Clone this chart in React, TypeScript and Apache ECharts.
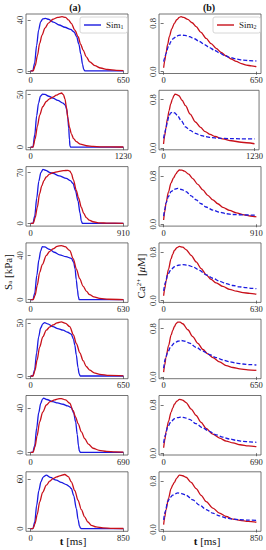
import React, { useEffect, useRef } from "react";
import * as echarts from "echarts";

type Pt = [number, number];

// x-axis end (ms) and the labelled y tick of each row
const timeMax = [650, 1230, 910, 630, 650, 690, 850];
const forceTick = [40, 50, 70, 40, 50, 40, 60];
const calciumTick = [0, 0.8];

// ---- column (a): active stress S_a [kPa] ----
const sa1Row1: Pt[] = [[0,0],[15,0],[28,6],[42,20],[56,32],[70,38.5],[85,40.8],[105,41.2],[125,40.5],[160,38.2],[200,36],[240,34.2],[280,32.5],[305,30.5],[322,27],[338,21],[352,13],[364,5],[372,1],[380,0],[650,0]];
const sa2Row1: Pt[] = [[0,0],[18,0],[32,4],[48,12],[63,21.5],[80,28],[100,33.5],[125,37.5],[157,40.5],[190,42],[220,42.5],[245,42],[265,40],[285,37.3],[310,32],[333,26.8],[350,21],[368,16.3],[390,11],[415,7],[450,4],[490,2.2],[540,1],[600,0.4],[650,0.15]];
const sa1Row2: Pt[] = [[0,0],[30,0],[55,12],[80,30],[105,42],[130,48.5],[160,50.6],[190,50.2],[240,48.5],[296,46.8],[360,44.5],[429,41.9],[460,40],[478,36],[492,29],[505,18],[515,7],[522,1],[530,0],[1230,0]];
const sa2Row2: Pt[] = [[0,0],[32,0],[60,8],[90,20],[120,30.5],[160,38.5],[208,43.5],[250,46],[296,47.7],[340,49.5],[385,51],[410,51.6],[435,50],[455,46],[475,38],[495,27],[515,19],[540,12.7],[570,8],[606,5.2],[660,2.8],[740,1.3],[830,0.6],[920,0.3],[1230,0.1]];
const sa1Row3: Pt[] = [[0,0],[22,0],[40,10],[60,35],[80,58],[100,70],[121,74.6],[150,73],[185,70.5],[219,69],[280,65.5],[350,62],[390,59],[416,55],[440,45],[465,31],[485,14],[498,3],[508,0],[910,0]];
const sa2Row3: Pt[] = [[0,0],[25,0],[45,8],[65,22],[88,41],[110,52],[130,59],[153,64],[185,68],[219,70],[270,71.5],[320,72.7],[367,73.2],[385,72],[399,69],[420,60],[448,45.5],[470,35],[498,22],[520,14],[547,8],[575,4.5],[612,2.3],[678,0.8],[760,0.3],[910,0.1]];
const sa1Row4: Pt[] = [[0,0],[15,0],[28,6],[42,22],[56,36],[68,44],[79,48],[95,47.8],[129,45.5],[160,43],[197,40.6],[240,39],[277,37.5],[292,34],[302,28],[310,18],[318,9],[324,3],[330,0],[630,0]];
const sa2Row4: Pt[] = [[0,0],[17,0],[30,4],[45,13],[61,24.6],[80,32],[106,40],[130,43.8],[152,46],[180,48.3],[209,49],[235,48],[265,44.6],[290,37],[311,27.7],[333,19],[356,12.3],[380,7.5],[401,4.6],[430,2.5],[469,1.2],[530,0.4],[630,0.1]];
const sa1Row5: Pt[] = [[0,0],[15,0],[28,6],[42,22],[56,37],[70,45.5],[85,49.5],[98,50.6],[120,49.5],[157,46.8],[190,45],[227,43.5],[260,41.5],[285,39.7],[300,35],[310,29],[320,20],[332,8],[340,2],[348,0],[650,0]];
const sa2Row5: Pt[] = [[0,0],[17,0],[30,5],[45,15],[63,27.4],[85,37],[110,43.5],[135,46.6],[157,48.4],[185,50.4],[215,51.3],[245,50],[274,46.8],[300,39],[321,30.6],[345,22],[368,14.5],[390,9],[415,5.5],[445,3],[485,1.6],[550,0.5],[650,0.15]];
const sa1Row6: Pt[] = [[0,0],[16,0],[30,6],[45,22],[60,36],[75,44.5],[88,48.3],[97,49.2],[120,48],[166,46],[200,45],[241,43.7],[275,42.2],[303,40.6],[320,36],[335,27.7],[347,16],[356,6],[362,1.5],[370,0],[690,0]];
const sa2Row6: Pt[] = [[0,0],[18,0],[32,5],[48,15],[67,27.7],[90,36.5],[117,43],[145,46],[179,47.7],[205,48.6],[229,48.9],[260,47.6],[291,44.6],[315,38],[335,32],[353,26],[378,18.5],[403,12.3],[430,7.5],[464,3.7],[510,1.8],[564,0.9],[630,0.4],[690,0.2]];
const sa1Row7: Pt[] = [[0,0],[20,0],[38,8],[55,28],[75,46],[95,57],[115,62.5],[144,64.8],[180,62],[236,58.7],[280,56],[327,53.4],[355,51],[373,48.6],[395,40],[419,24.3],[435,11],[448,3],[458,0.5],[465,0],[850,0]];
const sa2Row7: Pt[] = [[0,0],[22,0],[40,6],[60,17],[83,32.4],[110,44],[144,52.6],[175,57.5],[205,60.7],[240,62.8],[266,64],[312,65.6],[345,63],[373,56.7],[405,46],[434,34.4],[465,23],[495,14.2],[525,8],[556,4],[600,2],[663,0.8],[750,0.3],[850,0.1]];

// ---- column (b): calcium Ca2+ [uM] ----
const ca2Row1: Pt[] = [[0,0.066],[8,0.18],[16,0.3],[28,0.45],[40,0.58],[57,0.71],[75,0.8],[92,0.86],[110,0.9],[122,0.91],[140,0.9],[169,0.866],[200,0.81],[228,0.745],[262,0.65],[298,0.55],[333,0.465],[368,0.386],[403,0.32],[439,0.26],[474,0.21],[509,0.17],[545,0.135],[580,0.11],[615,0.095],[650,0.083]];
const ca1Row1: Pt[] = [[0,0.166],[8,0.23],[16,0.3],[34,0.42],[52,0.5],[70,0.555],[87,0.58],[105,0.6],[122,0.607],[150,0.6],[181,0.58],[215,0.545],[251,0.5],[286,0.45],[321,0.4],[356,0.355],[392,0.31],[427,0.27],[462,0.237],[510,0.21],[556,0.193],[600,0.183],[650,0.177]];
const ca2Row2: Pt[] = [[0,0.065],[15,0.2],[31,0.32],[52,0.48],[75,0.62],[97,0.73],[120,0.81],[140,0.865],[155,0.89],[180,0.885],[209,0.865],[250,0.79],[297,0.7],[360,0.56],[431,0.43],[500,0.34],[564,0.27],[630,0.225],[697,0.19],[800,0.15],[919,0.12],[1050,0.095],[1230,0.07]];
const ca1Row2: Pt[] = [[0,0.16],[15,0.24],[31,0.32],[52,0.44],[75,0.54],[97,0.58],[120,0.595],[150,0.58],[187,0.54],[240,0.45],[297,0.35],[360,0.29],[431,0.243],[500,0.21],[564,0.19],[650,0.172],[742,0.162],[900,0.155],[1050,0.152],[1230,0.151]];
const ca2Row3: Pt[] = [[0,0.07],[12,0.22],[23,0.35],[47,0.53],[72,0.68],[97,0.77],[122,0.84],[140,0.88],[154,0.9],[180,0.895],[204,0.88],[245,0.83],[286,0.757],[335,0.66],[384,0.57],[433,0.48],[483,0.405],[532,0.34],[581,0.28],[647,0.23],[713,0.19],[790,0.155],[850,0.137],[910,0.124]];
const ca1Row3: Pt[] = [[0,0.135],[12,0.25],[23,0.35],[47,0.46],[72,0.54],[105,0.58],[138,0.595],[180,0.575],[220,0.54],[270,0.47],[319,0.405],[368,0.34],[417,0.286],[483,0.235],[549,0.2],[615,0.175],[680,0.162],[780,0.155],[910,0.151]];
const ca2Row4: Pt[] = [[0,0.08],[8,0.2],[16,0.32],[33,0.52],[50,0.69],[62,0.77],[73,0.83],[90,0.875],[107,0.896],[130,0.885],[152,0.843],[187,0.75],[221,0.64],[255,0.53],[289,0.427],[323,0.35],[357,0.293],[402,0.235],[448,0.187],[494,0.155],[539,0.133],[585,0.118],[630,0.107]];
const ca1Row4: Pt[] = [[0,0.16],[12,0.3],[27,0.43],[50,0.51],[73,0.56],[100,0.585],[130,0.597],[165,0.585],[198,0.56],[244,0.5],[289,0.427],[335,0.37],[380,0.32],[425,0.28],[471,0.25],[516,0.228],[562,0.213],[600,0.203],[630,0.197]];
const ca2Row5: Pt[] = [[0,0.08],[8,0.2],[16,0.32],[35,0.52],[52,0.69],[64,0.77],[75,0.83],[87,0.88],[99,0.907],[115,0.905],[134,0.88],[170,0.78],[204,0.667],[240,0.555],[275,0.453],[310,0.38],[345,0.32],[392,0.25],[439,0.187],[486,0.155],[533,0.133],[590,0.117],[650,0.107]];
const ca1Row5: Pt[] = [[0,0.144],[12,0.3],[27,0.4],[50,0.5],[75,0.56],[100,0.59],[122,0.603],[150,0.59],[181,0.56],[228,0.49],[275,0.427],[322,0.37],[368,0.32],[415,0.28],[462,0.25],[509,0.228],[556,0.213],[600,0.204],[650,0.197]];
const ca2Row6: Pt[] = [[0,0.09],[9,0.22],[18,0.357],[37,0.53],[55,0.677],[68,0.75],[80,0.81],[98,0.86],[117,0.89],[140,0.88],[167,0.837],[205,0.73],[242,0.624],[279,0.51],[316,0.41],[366,0.315],[416,0.25],[466,0.2],[516,0.17],[570,0.14],[630,0.12],[690,0.107]];
const ca1Row6: Pt[] = [[0,0.17],[13,0.3],[30,0.437],[55,0.52],[80,0.57],[105,0.59],[130,0.597],[160,0.585],[192,0.56],[240,0.49],[291,0.42],[340,0.36],[391,0.304],[440,0.265],[490,0.235],[540,0.213],[590,0.197],[640,0.187],[690,0.18]];
const ca2Row7: Pt[] = [[0,0.08],[10,0.2],[21,0.32],[45,0.52],[68,0.676],[83,0.735],[98,0.78],[120,0.85],[144,0.9],[175,0.89],[206,0.865],[252,0.78],[298,0.676],[344,0.565],[390,0.46],[451,0.355],[512,0.27],[573,0.215],[635,0.173],[700,0.15],[775,0.133],[850,0.12]];
const ca1Row7: Pt[] = [[0,0.16],[15,0.3],[37,0.46],[60,0.53],[83,0.568],[105,0.59],[129,0.605],[165,0.595],[206,0.568],[267,0.49],[328,0.405],[390,0.33],[451,0.27],[512,0.225],[574,0.19],[635,0.172],[697,0.162],[780,0.155],[850,0.151]];

const saSim1 = [sa1Row1, sa1Row2, sa1Row3, sa1Row4, sa1Row5, sa1Row6, sa1Row7];
const saSim2 = [sa2Row1, sa2Row2, sa2Row3, sa2Row4, sa2Row5, sa2Row6, sa2Row7];
const caSim1 = [ca1Row1, ca1Row2, ca1Row3, ca1Row4, ca1Row5, ca1Row6, ca1Row7];
const caSim2 = [ca2Row1, ca2Row2, ca2Row3, ca2Row4, ca2Row5, ca2Row6, ca2Row7];

const BLUE = "#1a1ae0";
const RED = "#c8101a";
const FRAME = "#505050";
const FONT = "Liberation Serif";

function buildOption() {
  const colLeft = [26, 159];
  const gridW = 102;
  const gridH = 59.5;
  const pitch = 76.3;
  const grid: any[] = [];
  const xAxis: any[] = [];
  const yAxis: any[] = [];
  const series: any[] = [];
  const labelStyle = { fontFamily: FONT, fontSize: 8.5, color: "#222" };

  for (let i = 0; i < 7; i++) {
    const top = 14 + i * pitch;
    const T = timeMax[i];
    for (let c = 0; c < 2; c++) {
      const idx = i * 2 + c;
      grid.push({
        left: colLeft[c], top, width: gridW, height: gridH,
        show: true, borderColor: FRAME, borderWidth: 0.8, backgroundColor: "#fff",
      });
      xAxis.push({
        type: "value", gridIndex: idx, min: -0.05 * T, max: 1.05 * T,
        axisLine: { show: false }, splitLine: { show: false },
        axisTick: { show: true, length: 3, customValues: [0, T], lineStyle: { color: FRAME, width: 0.8 } },
        axisLabel: { ...labelStyle, margin: 2, customValues: [0, T], formatter: (v: number) => String(Math.round(v)) },
      });
      if (c === 0) {
        let peak = 0;
        for (const p of saSim1[i].concat(saSim2[i])) peak = Math.max(peak, p[1]);
        yAxis.push({
          type: "value", gridIndex: idx, min: -0.05 * peak, max: 1.05 * peak,
          axisLine: { show: false }, splitLine: { show: false },
          axisTick: { show: true, length: 3, customValues: [0, forceTick[i]], lineStyle: { color: FRAME, width: 0.8 } },
          axisLabel: { ...labelStyle, margin: 2, rotate: 90, customValues: [0, forceTick[i]], formatter: (v: number) => String(Math.round(v)) },
        });
      } else {
        yAxis.push({
          type: "value", gridIndex: idx, min: -0.03, max: 0.955,
          axisLine: { show: false }, splitLine: { show: false },
          axisTick: { show: true, length: 3, customValues: calciumTick, lineStyle: { color: FRAME, width: 0.8 } },
          axisLabel: {
            ...labelStyle, margin: 2, rotate: 90, customValues: calciumTick,
            formatter: (v: number) => v.toFixed(1),
          },
        });
      }
    }
    const base = { type: "line", symbol: "none", showSymbol: false, smooth: 0.3, smoothMonotone: "x", clip: true, silent: true };
    series.push({ ...base, name: "Sim1", xAxisIndex: i * 2, yAxisIndex: i * 2, data: saSim1[i], lineStyle: { color: BLUE, width: 1.3 }, itemStyle: { color: BLUE } });
    series.push({ ...base, name: "Sim2", xAxisIndex: i * 2, yAxisIndex: i * 2, data: saSim2[i], lineStyle: { color: RED, width: 1.3 }, itemStyle: { color: RED } });
    series.push({ ...base, name: "Sim2", xAxisIndex: i * 2 + 1, yAxisIndex: i * 2 + 1, data: caSim2[i], lineStyle: { color: RED, width: 1.3 }, itemStyle: { color: RED } });
    series.push({ ...base, name: "Sim1", xAxisIndex: i * 2 + 1, yAxisIndex: i * 2 + 1, data: caSim1[i], lineStyle: { color: BLUE, width: 1.3, type: [4, 2] }, itemStyle: { color: BLUE } });
  }

  const legendBase = {
    top: 17, orient: "horizontal", icon: "rect", itemWidth: 17, itemHeight: 1.4, itemGap: 4,
    backgroundColor: "#fff", borderColor: "#cccccc", borderWidth: 0.8, borderRadius: 2,
    padding: [3, 4, 3, 4], selectedMode: false,
    textStyle: {
      fontFamily: FONT, fontSize: 9, color: "#222", lineHeight: 10,
      rich: { s: { fontFamily: FONT, fontSize: 6, verticalAlign: "bottom", lineHeight: 8, padding: [3, 0, 0, 0] } },
    },
  };

  const graphic: any[] = [
    { type: "text", x: 75, y: 7, style: { text: "(a)", font: `bold 10px ${FONT}`, fill: "#111", align: "center", verticalAlign: "middle" } },
    { type: "text", x: 209, y: 7, style: { text: "(b)", font: `bold 10px ${FONT}`, fill: "#111", align: "center", verticalAlign: "middle" } },
    {
      type: "text", x: 8, y: 272, rotation: Math.PI / 2,
      style: {
        text: "S{s|a} [kPa]", align: "center", verticalAlign: "middle", fill: "#111",
        fontFamily: FONT, fontSize: 11,
        rich: { s: { fontFamily: FONT, fontSize: 7, verticalAlign: "bottom", padding: [4, 0, 0, 0] } },
      },
    },
    {
      type: "text", x: 140.5, y: 276, rotation: Math.PI / 2,
      style: {
        text: "Ca{p|2+} [{m|μ}M]", align: "center", verticalAlign: "middle", fill: "#111",
        fontFamily: FONT, fontSize: 11,
        rich: {
          p: { fontFamily: FONT, fontSize: 7, verticalAlign: "top", padding: [0, 0, 4, 0] },
          m: { fontFamily: FONT, fontSize: 11, fontStyle: "italic" },
        },
      },
    },
    {
      type: "text", x: 73, y: 541,
      style: {
        text: "{b|t} [ms]", align: "center", verticalAlign: "middle", fill: "#111",
        fontFamily: FONT, fontSize: 11,
        rich: { b: { fontFamily: FONT, fontSize: 11, fontWeight: "bold" } },
      },
    },
    {
      type: "text", x: 207, y: 541,
      style: {
        text: "{b|t} [ms]", align: "center", verticalAlign: "middle", fill: "#111",
        fontFamily: FONT, fontSize: 11,
        rich: { b: { fontFamily: FONT, fontSize: 11, fontWeight: "bold" } },
      },
    },
  ];

  return {
    animation: false,
    backgroundColor: "#fff",
    grid, xAxis, yAxis, series, graphic,
    legend: [
      { ...legendBase, left: 80, data: ["Sim1"], formatter: () => "Sim{s|1}" },
      { ...legendBase, left: 213, data: ["Sim2"], formatter: () => "Sim{s|2}" },
    ],
  };
}

export default function App() {
  const ref = useRef<HTMLDivElement>(null);
  useEffect(() => {
    if (!ref.current) return;
    const chart = echarts.init(ref.current, undefined, { renderer: "svg" });
    chart.setOption(buildOption() as any);
    return () => chart.dispose();
  }, []);
  return (
    <div
      ref={ref}
      style={{ position: "fixed", left: 0, top: 0, width: 266, height: 550, background: "#fff" }}
    />
  );
}
